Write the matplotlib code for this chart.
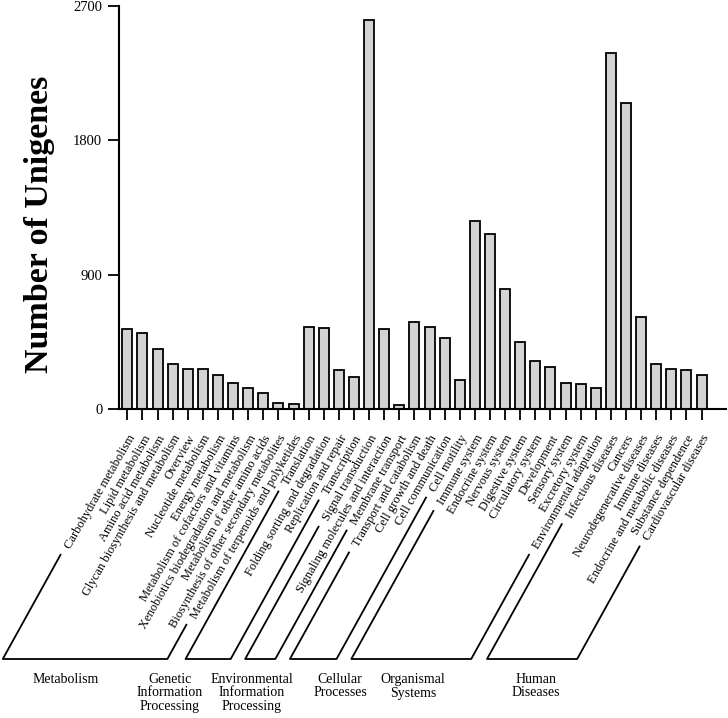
import numpy as np
import matplotlib
matplotlib.use('Agg')
import matplotlib.pyplot as plt
import matplotlib.transforms as mtransforms
from matplotlib.lines import Line2D

plt.rcParams['font.family'] = ['Liberation Serif', 'DejaVu Serif']

# DATA
pathways = ['Carbohydrate metabolism', 'Lipid metabolism', 'Amino acid metabolism',
            'Glycan biosynthesis and metabolism', 'Overview', 'Nucleotide metabolism',
            'Energy metabolism', 'Metabolism of cofactors and vitamins',
            'Xenobiotics biodegradation and metabolism', 'Metabolism of other amino acids',
            'Biosynthesis of other secondary metabolites', 'Metabolism of terpenoids and polyketides',
            'Translation', 'Folding sorting and degradation', 'Replication and repair', 'Transcription',
            'Signal transduction', 'Signaling molecules and interaction', 'Membrane transport',
            'Transport and catabolism', 'Cell growth and death', 'Cell communication', 'Cell motility',
            'Immune system', 'Endocrine system', 'Nervous system', 'Digestive system',
            'Circulatory system', 'Development', 'Sensory system', 'Excretory system',
            'Environmental adaptation',
            'Infectious diseases', 'Cancers', 'Neurodegenerative diseases', 'Immune diseases',
            'Endocrine and metabolic diseases', 'Substance dependence', 'Cardiovascular diseases']
unigenes = [535, 509, 404, 303, 270, 270, 230, 178, 140, 107, 40, 36,
            553, 544, 263, 214,
            2606, 535, 29,
            587, 549, 479, 196,
            1261, 1172, 803, 453, 321, 285, 178, 167, 145,
            2388, 2049, 620, 301, 270, 263, 230]
groups = ['Metabolism', 'Genetic\nInformation\nProcessing', 'Environmental\nInformation\nProcessing',
          'Cellular\nProcesses', 'Organismal\nSystems', 'Human\nDiseases']
group_sizes = [12, 4, 3, 4, 9, 7]
yticks = [0, 900, 1800, 2700]

# LAYOUT (pixels)
W, H = 728, 718
group_label_x = [66, 170, 252, 340, 413, 536]
base_y = 659
label_angle = 60
bracket_angle = 61

fig = plt.figure(figsize=(W / 100, H / 100), dpi=100)
ax = fig.add_axes([119 / W, (H - 409.3) / H, (726 - 119) / W, (409.3 - 6) / H])

x = np.arange(len(pathways))
ax.bar(x, unigenes, width=0.66, color='#d3d3d3', edgecolor='black', linewidth=1.3)

ax.set_xlim(-0.55, 39.62)
ax.set_ylim(0, 2700)
ax.set_yticks(yticks)
ax.set_yticklabels([str(t) for t in yticks], fontsize=10.5)
ax.set_xticks(x)
ax.set_xticklabels(pathways, rotation=label_angle, ha='right', va='top',
                   rotation_mode='anchor', fontsize=9)
shift = mtransforms.ScaledTranslation(5 / 100, 0, fig.dpi_scale_trans)
for lbl in ax.get_xticklabels():
    lbl.set_transform(lbl.get_transform() + shift)
ax.tick_params(axis='y', direction='out', length=8, width=1.3, pad=4)
ax.tick_params(axis='x', direction='out', length=8, width=1.3, pad=9)
for s in ['top', 'right']:
    ax.spines[s].set_visible(False)
for s in ['left', 'bottom']:
    ax.spines[s].set_linewidth(1.5)

fig.text(39.5 / W, 1 - 224 / H, 'Number of Unigenes', rotation=90, fontsize=24.5,
         fontweight='bold', ha='center', va='center')

# group brackets drawn from tick label extents
fig.canvas.draw()
renderer = fig.canvas.get_renderer()
labels = ax.get_xticklabels()
c, s = np.cos(np.radians(label_angle)), np.sin(np.radians(label_angle))
cb, sb = np.cos(np.radians(bracket_angle)), np.sin(np.radians(bracket_angle))
th = 9 * 100 / 72 * 1.1
gap = 8
dx = -4
yb = H - base_y


def start_point(lbl):
    bb = lbl.get_window_extent(renderer)
    px = bb.x0 + th * s / 2
    py = bb.y0 + th * c / 2
    return px - gap * cb + dx, py - gap * sb


start = 0
for g, n in enumerate(group_sizes):
    lx, ly = start_point(labels[start])
    rx, ry = start_point(labels[start + n - 1])
    lbx = lx - (ly - yb) * cb / sb
    rbx = rx - (ry - yb) * cb / sb
    pts = [(lx, ly), (lbx, yb), (rbx, yb), (rx, ry)]
    fx = [p[0] / W for p in pts]
    fy = [p[1] / H for p in pts]
    fig.add_artist(Line2D(fx, fy, color='black', linewidth=1.3, transform=fig.transFigure))
    fig.text(group_label_x[g] / W, 1 - 673 / H, groups[g], ha='center', va='top',
             fontsize=10, linespacing=1.05)
    start += n

fig.savefig('out.png', dpi=100)
